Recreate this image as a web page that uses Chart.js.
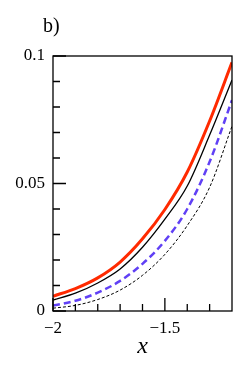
<!DOCTYPE html>
<html>
<head>
<meta charset="utf-8">
<script src="https://cdn.jsdelivr.net/npm/chart.js@4.4.1/dist/chart.umd.min.js"></script>
<style>
  body { margin: 0; background: #fff; }
</style>
</head>
<body>
<canvas id="myChart" width="245" height="368"></canvas>
<script>
// ============  data  ============
const xValues = [-2, -1.9, -1.8, -1.7, -1.6, -1.5, -1.4, -1.3, -1.2];
const redSeries = [0.0058, 0.0088, 0.0130, 0.0192, 0.0283, 0.0398, 0.0545, 0.0745, 0.0975];
const blackSeries = [0.0043, 0.0070, 0.0110, 0.0165, 0.0250, 0.0360, 0.0490, 0.0690, 0.0906];
const blueSeries = [0.0021, 0.0040, 0.0072, 0.0118, 0.0185, 0.0275, 0.0400, 0.0585, 0.0827];
const dottedSeries = [0.0011, 0.0022, 0.0045, 0.0082, 0.0140, 0.0222, 0.0335, 0.0485, 0.0725];

const xTickValues = [-2, -1.5];
const xTickLabels = ['\u22122', '\u22121.5'];
const xMinorTicks = [-1.9, -1.8, -1.7, -1.6, -1.4, -1.3];
const yTickValues = [0, 0.05, 0.1];
const yTickLabels = ['0', '0.05', '0.1'];
const yMinorTicks = [0.01, 0.02, 0.03, 0.04, 0.06, 0.07, 0.08, 0.09];

const serif = "'Liberation Serif', 'DejaVu Serif', serif";

function pts(vals) {
   return xValues.map((x, i) => ({ x: x, y: vals[i] }));
}

// box + inward ticks + panel label
const frame = {
   id: 'frame',
   afterDraw(chart) {
      const c = chart.ctx;
      const a = chart.chartArea;
      const xs = chart.scales.x;
      const ys = chart.scales.y;
      c.save();
      c.strokeStyle = '#000';
      c.lineWidth = 1.3;
      c.strokeRect(a.left, a.top, a.right - a.left, a.bottom - a.top);
      c.beginPath();
      xTickValues.forEach(v => {
         const px = xs.getPixelForValue(v);
         c.moveTo(px, a.bottom); c.lineTo(px, a.bottom - 13);
      });
      xMinorTicks.forEach(v => {
         const px = xs.getPixelForValue(v);
         c.moveTo(px, a.bottom); c.lineTo(px, a.bottom - 7);
      });
      yTickValues.forEach(v => {
         const py = ys.getPixelForValue(v);
         c.moveTo(a.left, py); c.lineTo(a.left + 13, py);
      });
      yMinorTicks.forEach(v => {
         const py = ys.getPixelForValue(v);
         c.moveTo(a.left, py); c.lineTo(a.left + 7, py);
      });
      c.stroke();
      c.fillStyle = '#000';
      c.font = '20px ' + serif;
      c.textBaseline = 'alphabetic';
      c.fillText('b)', 43, 32);
      c.restore();
   }
};

let ctx = document.getElementById('myChart').getContext('2d');
let myChart = new Chart(ctx, {
   type: 'line',
   data: {
      datasets: [{
         data: pts(dottedSeries),
         borderColor: '#000',
         borderWidth: 1,
         borderDash: [3, 2],
      }, {
         data: pts(blueSeries),
         borderColor: '#6040f5',
         borderWidth: 2.5,
         borderDash: [7, 4],
      }, {
         data: pts(blackSeries),
         borderColor: '#000',
         borderWidth: 1.3,
      }, {
         data: pts(redSeries),
         borderColor: '#ff2a00',
         borderWidth: 3,
      }],
   },
   options: {
      responsive: false,
      animation: false,
      devicePixelRatio: 1,
      elements: {
         point: { radius: 0 },
         line: { cubicInterpolationMode: 'monotone' },
      },
      layout: {
         padding: { left: 0, right: 13, top: 56, bottom: 0 },
      },
      scales: {
         x: {
            type: 'linear',
            min: -2,
            max: -1.2,
            grid: { display: false, drawTicks: false },
            border: { display: false },
            afterBuildTicks: s => { s.ticks = xTickValues.map(v => ({ value: v })); },
            afterFit: s => { s.height = 57; },
            ticks: {
               color: '#000',
               padding: 7,
               maxRotation: 0,
               font: { family: serif, size: 17 },
               callback: v => xTickLabels[xTickValues.indexOf(v)],
            },
            title: {
               display: true,
               text: 'x',
               color: '#000',
               font: { family: serif, size: 24, style: 'italic' },
               padding: { top: 0, bottom: 7 },
            },
         },
         y: {
            min: 0,
            max: 0.1,
            grid: { display: false, drawTicks: false },
            border: { display: false },
            afterBuildTicks: s => { s.ticks = yTickValues.map(v => ({ value: v })); },
            afterFit: s => { s.width = 53; },
            ticks: {
               color: '#000',
               padding: 8,
               font: { family: serif, size: 17 },
               callback: v => yTickLabels[yTickValues.indexOf(v)],
            },
         },
      },
      plugins: {
         legend: { display: false },
         tooltip: { enabled: false },
      },
   },
   plugins: [frame],
});
</script>
</body>
</html>
